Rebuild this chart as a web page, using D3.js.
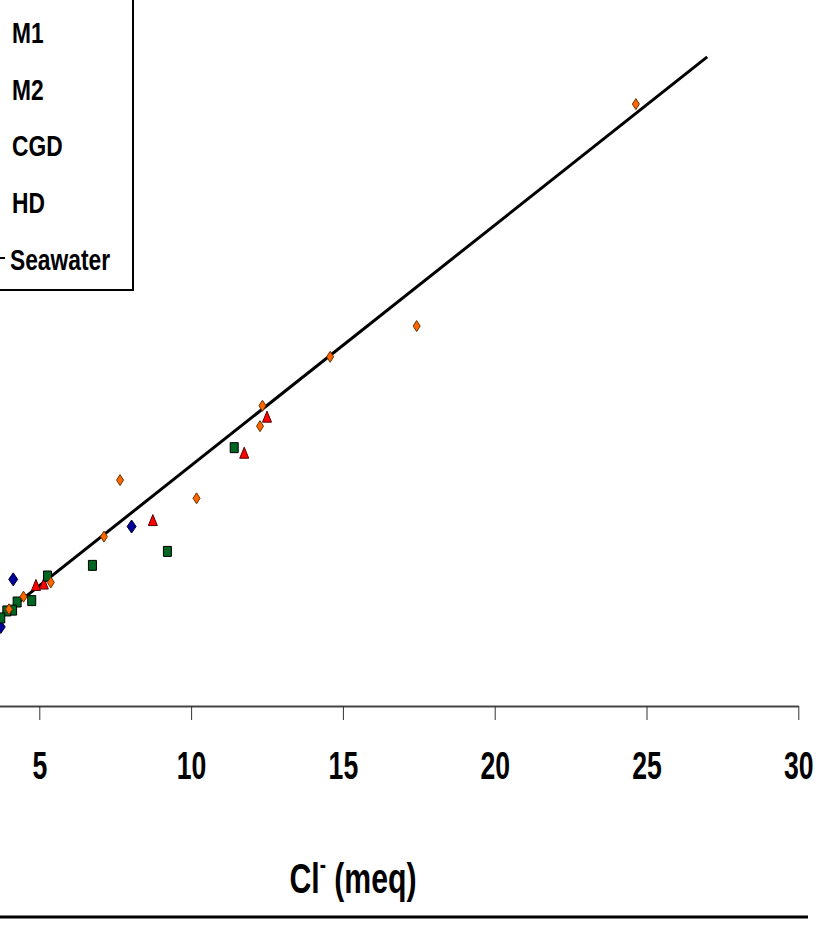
<!DOCTYPE html>
<html lang="en">
<head>
    <meta charset="UTF-8">
    <title>Cl- vs Na+ (meq)</title>
    <script src="https://d3js.org/d3.v7.min.js"></script>
    <style>
        body {
            margin: 0;
            background: #fff;
            font-family: "Liberation Sans", Arial, sans-serif;
        }
        text {
            font-weight: bold;
            fill: #000;
        }
    </style>
</head>
<body>
<div id="chart"></div>
<script>
    // Cl- (meq) on x, the other ion (meq) on y
    const m1Cl = [4.14, 3.73, 8.04];
    const m1Y = [4.53, 2.83, 6.42];

    const m2Cl = [4.89, 5.15, 8.74, 11.75, 12.50];
    const m2Y = [4.33, 4.38, 6.65, 9.06, 10.35];

    const cgdCl = [9.22, 6.75, 5.27, 4.75, 4.27, 4.12, 3.93, 3.73, 11.42];
    const cgdY = [5.53, 5.03, 4.65, 3.77, 3.72, 3.43, 3.40, 3.15, 9.24];

    const hdCl = [5.38, 4.48, 4.00, 7.13, 7.66, 10.18, 12.27, 12.35, 14.58, 17.43, 24.65];
    const hdY = [4.42, 3.91, 3.46, 6.06, 8.08, 7.43, 10.01, 10.74, 12.49, 13.59, 21.53];

    const seawaterCl = [0, 27];
    const seawaterY = [0, 23.22];

    // the 0 tick falls outside the visible part
    const xTicks = [5, 10, 15, 20, 25, 30];
    const seriesNames = ["M1", "M2", "CGD", "HD", "Seawater"];

    const width = 829, height = 928;

    const svg = d3.select("#chart").append("svg")
        .attr("width", width)
        .attr("height", height);

    svg.append("rect").attr("width", width).attr("height", height).attr("fill", "#fff");

    // the plot is cut on the left, so 0 sits outside the picture
    const x = d3.scaleLinear().domain([0, 30]).range([-112.5, 798.3]);
    const y = d3.scaleLinear().domain([0, 25]).range([706, 7.1]);

    // marker shapes (w, h in px)
    function diamond(w, h) {
        return `M0,${-h / 2}L${w / 2},0L0,${h / 2}L${-w / 2},0Z`;
    }
    function square(w, h) {
        return `M${-w / 2},${-h / 2}h${w}v${h}h${-w}Z`;
    }
    function triangle(w, h) {
        return `M0,${-h / 2}L${w / 2},${h / 2}L${-w / 2},${h / 2}Z`;
    }

    // seawater line
    const line = d3.line().x(d => x(d[0])).y(d => y(d[1]));
    svg.append("path")
        .datum(d3.zip(seawaterCl, seawaterY))
        .attr("d", line)
        .attr("fill", "none")
        .attr("stroke", "#000")
        .attr("stroke-width", 3);

    const series = [
        {cl: m1Cl, v: m1Y, shape: diamond(9, 13), fill: "#000099", stroke: "#000033"},
        {cl: m2Cl, v: m2Y, shape: triangle(9, 11), fill: "#ff0000", stroke: "#550000"},
        {cl: cgdCl, v: cgdY, shape: square(8, 10), fill: "#006622", stroke: "#000"},
        {cl: hdCl, v: hdY, shape: diamond(7, 11), fill: "#ff6600", stroke: "#663300"}
    ];

    series.forEach(s => {
        svg.append("g")
            .selectAll("path")
            .data(d3.zip(s.cl, s.v))
            .join("path")
            .attr("d", s.shape)
            .attr("transform", d => `translate(${x(d[0])},${y(d[1])})`)
            .attr("fill", s.fill)
            .attr("stroke", s.stroke)
            .attr("stroke-width", 1);
    });

    // x axis
    const axis = svg.append("g")
        .attr("transform", `translate(0,${y(0)})`)
        .call(d3.axisBottom(x).tickValues(xTicks).tickSize(14).tickSizeOuter(0).tickFormat(d3.format("d")));
    axis.select(".domain").attr("stroke", "#444").attr("stroke-width", 2);
    axis.selectAll(".tick line").attr("stroke", "#333").attr("stroke-width", 1);
    axis.selectAll(".tick text")
        .attr("y", 73)
        .attr("dy", 0)
        .attr("font-size", 38)
        .attr("font-family", "'Liberation Sans', Arial, sans-serif")
        .attr("font-weight", "bold")
        .attr("fill", "#000")
        .attr("transform", "scale(0.7,1)");

    // axis title
    const title = svg.append("text")
        .attr("transform", "translate(353,893) scale(0.72,1)")
        .attr("text-anchor", "middle")
        .attr("font-size", 42);
    title.append("tspan").text("Cl");
    title.append("tspan").attr("font-size", 26).attr("dy", -20).text("-");
    title.append("tspan").attr("dy", 20).text(" (meq)");

    // bottom frame line
    svg.append("line")
        .attr("x1", 0).attr("x2", 808)
        .attr("y1", 917).attr("y2", 917)
        .attr("stroke", "#000")
        .attr("stroke-width", 3);

    // legend (left part cut off)
    const legend = svg.append("g");
    legend.append("rect")
        .attr("x", -60).attr("y", -10)
        .attr("width", 193).attr("height", 300)
        .attr("fill", "#fff")
        .attr("stroke", "#000")
        .attr("stroke-width", 2);

    seriesNames.forEach((name, i) => {
        const by = 43 + i * 56.7;
        legend.append("text")
            .attr("transform", `translate(${name === "Seawater" ? 10 : 12},${by}) scale(0.76,1)`)
            .attr("font-size", 30)
            .text(name);
    });
    legend.append("line")
        .attr("x1", -30).attr("x2", 5)
        .attr("y1", 258).attr("y2", 258)
        .attr("stroke", "#000")
        .attr("stroke-width", 2);
</script>
</body>
</html>
